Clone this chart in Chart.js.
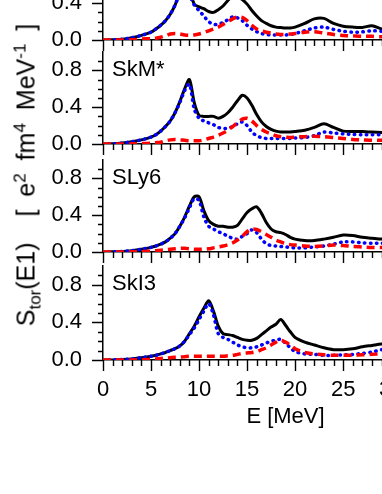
<!DOCTYPE html>
<html>
<head>
<meta charset="utf-8">
<script src="https://cdn.jsdelivr.net/npm/chart.js@4.4.0/dist/chart.umd.min.js"></script>
<style>
  html, body { margin: 0; padding: 0; background: #fff; }
  body { width: 382px; height: 494px; overflow: hidden; position: relative;
         font-family: "Liberation Sans", Arial, sans-serif; }
  canvas { position: absolute; left: 0; }
  #ytitle { position: absolute; left: 26px; top: 175px; white-space: nowrap;
            transform: translate(-50%, -50%) rotate(-90deg);
            font-size: 25px; line-height: 1; word-spacing: 6px; color: #000; }
  #ytitle sub, #ytitle sup { font-size: 17px; line-height: 0; }
</style>
</head>
<body>
<canvas id="panel0" width="490" height="112" style="top:-58px"></canvas>
<canvas id="panel1" width="490" height="112" style="top:46px"></canvas>
<canvas id="panel2" width="490" height="112" style="top:154px"></canvas>
<canvas id="panel3" width="490" height="170" style="top:260px"></canvas>
<div id="ytitle">S<sub>tor</sub>(E1)&nbsp; [ e<sup>2</sup> fm<sup>4</sup> MeV<sup>-1</sup> ]</div>
<script>
// excitation energy grid (MeV), shared by every curve
const energy = [0, 1, 2, 3, 4, 5,
  5.5, 6, 6.5, 7, 7.5, 8, 8.5, 9, 9.5, 10,
  10.5, 11, 11.5, 12, 12.5, 13, 13.5, 14, 14.5, 15,
  15.5, 16, 16.5, 17, 17.5, 18, 18.5, 19, 19.5, 20,
  21, 22, 23, 24, 25, 26, 27, 28, 29, 30];

const panelNames = ["", "SkM*", "SLy6", "SkI3"];

// top panel (mostly cut off)
const topTotal = [0, 0.002, 0.008, 0.025, 0.05, 0.085,
  0.12, 0.16, 0.21, 0.28, 0.38, 0.52, 0.7, 0.55, 0.39, 0.36,
  0.34, 0.31, 0.3, 0.33, 0.37, 0.43, 0.48, 0.47, 0.44, 0.39,
  0.32, 0.26, 0.21, 0.18, 0.155, 0.14, 0.135, 0.13, 0.13, 0.14,
  0.18, 0.23, 0.235, 0.18, 0.15, 0.14, 0.137, 0.155, 0.12, 0.11];
const topDotted = [0, 0.002, 0.008, 0.025, 0.05, 0.085,
  0.12, 0.16, 0.21, 0.28, 0.38, 0.52, 0.68, 0.5, 0.38, 0.32,
  0.26, 0.2, 0.17, 0.17, 0.19, 0.22, 0.25, 0.24, 0.21, 0.16,
  0.12, 0.09, 0.07, 0.06, 0.055, 0.055, 0.055, 0.055, 0.06, 0.07,
  0.1, 0.13, 0.14, 0.115, 0.095, 0.085, 0.088, 0.1, 0.095, 0.09];
const topDashed = [0, 0, 0, 0.003, 0.01, 0.015,
  0.02, 0.03, 0.045, 0.065, 0.07, 0.065, 0.055, 0.05, 0.055, 0.065,
  0.08, 0.1, 0.12, 0.14, 0.17, 0.2, 0.23, 0.25, 0.245, 0.21,
  0.16, 0.12, 0.1, 0.085, 0.075, 0.065, 0.06, 0.06, 0.065, 0.07,
  0.085, 0.09, 0.075, 0.06, 0.05, 0.045, 0.04, 0.04, 0.035, 0.035];

// SkM*
const skmTotal = [0, 0.002, 0.01, 0.025, 0.045, 0.075,
  0.1, 0.14, 0.19, 0.25, 0.34, 0.46, 0.6, 0.7, 0.45, 0.31,
  0.3, 0.3, 0.3, 0.28, 0.3, 0.34, 0.4, 0.47, 0.53, 0.5,
  0.42, 0.32, 0.24, 0.19, 0.16, 0.14, 0.13, 0.13, 0.13, 0.135,
  0.15, 0.18, 0.22, 0.18, 0.14, 0.135, 0.135, 0.13, 0.125, 0.12];
const skmDotted = [0, 0.002, 0.01, 0.025, 0.045, 0.075,
  0.1, 0.14, 0.19, 0.25, 0.34, 0.45, 0.58, 0.65, 0.38, 0.28,
  0.25, 0.23, 0.21, 0.18, 0.17, 0.17, 0.19, 0.22, 0.24, 0.2,
  0.13, 0.09, 0.07, 0.06, 0.06, 0.06, 0.06, 0.06, 0.06, 0.065,
  0.07, 0.09, 0.13, 0.12, 0.11, 0.105, 0.1, 0.1, 0.1, 0.1];
const skmDashed = [0, 0, 0, 0.002, 0.005, 0.01,
  0.015, 0.02, 0.035, 0.045, 0.05, 0.045, 0.04, 0.035, 0.035, 0.035,
  0.045, 0.06, 0.075, 0.095, 0.12, 0.15, 0.19, 0.23, 0.27, 0.28,
  0.25, 0.2, 0.16, 0.13, 0.11, 0.09, 0.08, 0.075, 0.07, 0.075,
  0.08, 0.085, 0.08, 0.07, 0.06, 0.05, 0.045, 0.04, 0.04, 0.04];

// SLy6
const slyTotal = [0, 0.002, 0.006, 0.015, 0.03, 0.05,
  0.065, 0.085, 0.11, 0.15, 0.2, 0.28, 0.38, 0.5, 0.6, 0.6,
  0.45, 0.34, 0.3, 0.28, 0.28, 0.27, 0.27, 0.29, 0.36, 0.43,
  0.47, 0.49, 0.42, 0.32, 0.25, 0.22, 0.21, 0.19, 0.16, 0.14,
  0.125, 0.125, 0.14, 0.16, 0.185, 0.18, 0.16, 0.15, 0.14, 0.135];
const slyDotted = [0, 0.002, 0.006, 0.015, 0.03, 0.05,
  0.065, 0.085, 0.11, 0.15, 0.2, 0.28, 0.37, 0.48, 0.58, 0.56,
  0.38, 0.28, 0.25, 0.22, 0.2, 0.17, 0.15, 0.14, 0.17, 0.2,
  0.24, 0.21, 0.14, 0.09, 0.07, 0.065, 0.06, 0.055, 0.05, 0.045,
  0.045, 0.055, 0.065, 0.085, 0.11, 0.11, 0.1, 0.095, 0.095, 0.09];
const slyDashed = [0, 0, 0, 0.002, 0.005, 0.01,
  0.015, 0.02, 0.025, 0.03, 0.035, 0.04, 0.04, 0.035, 0.03, 0.03,
  0.03, 0.035, 0.045, 0.055, 0.065, 0.08, 0.1, 0.13, 0.17, 0.22,
  0.25, 0.245, 0.22, 0.19, 0.16, 0.13, 0.11, 0.09, 0.08, 0.075,
  0.065, 0.06, 0.065, 0.075, 0.07, 0.06, 0.055, 0.05, 0.05, 0.045];

// SkI3
const skiTotal = [0, 0.001, 0.005, 0.012, 0.025, 0.04,
  0.05, 0.065, 0.08, 0.1, 0.12, 0.15, 0.2, 0.28, 0.36, 0.46,
  0.55, 0.63, 0.52, 0.36, 0.28, 0.27, 0.26, 0.24, 0.22, 0.21,
  0.21, 0.23, 0.27, 0.31, 0.35, 0.38, 0.43, 0.37, 0.3, 0.24,
  0.19, 0.16, 0.13, 0.11, 0.11, 0.12, 0.14, 0.155, 0.17, 0.18];
const skiDotted = [0, 0.001, 0.005, 0.012, 0.025, 0.04,
  0.05, 0.065, 0.08, 0.1, 0.12, 0.15, 0.2, 0.27, 0.34, 0.43,
  0.52, 0.6, 0.48, 0.28, 0.24, 0.22, 0.19, 0.16, 0.14, 0.13,
  0.13, 0.14, 0.16, 0.18, 0.2, 0.21, 0.22, 0.18, 0.13, 0.09,
  0.065, 0.06, 0.05, 0.05, 0.055, 0.06, 0.07, 0.085, 0.11, 0.13];
const skiDashed = [0, 0, 0, 0.001, 0.003, 0.006,
  0.01, 0.015, 0.02, 0.025, 0.03, 0.03, 0.035, 0.04, 0.04, 0.04,
  0.04, 0.04, 0.04, 0.04, 0.04, 0.045, 0.05, 0.06, 0.07, 0.075,
  0.08, 0.09, 0.11, 0.13, 0.16, 0.19, 0.21, 0.19, 0.16, 0.12,
  0.08, 0.065, 0.055, 0.05, 0.05, 0.05, 0.055, 0.06, 0.065, 0.07];

const yMajor = [0, 0.4, 0.8];
const xMax = 38;

Chart.defaults.font.family = "'Liberation Sans', Arial, sans-serif";
Chart.defaults.font.size = 22;
Chart.defaults.color = "#000";

const toPoints = (arr) => energy.map((e, i) => ({ x: e, y: arr[i] }));

// outward tick marks (long at majors) and the panel name
const tickMarks = {
  id: "tickMarks",
  afterDraw(chart, args, opts) {
    const { ctx, chartArea: area } = chart;
    const xs = chart.scales.x;
    const ys = chart.scales.y;
    ctx.save();
    ctx.strokeStyle = "#000";
    ctx.lineWidth = 1.4;
    ctx.beginPath();
    for (let e = 0; e <= xMax; e += 1) {
      const px = Math.round(xs.getPixelForValue(e)) + 0.5;
      const len = e % 5 === 0 ? 11 : 6;
      ctx.moveTo(px, area.bottom);
      ctx.lineTo(px, area.bottom + len);
    }
    for (let k = 0; k <= 9; k++) {
      const py = Math.round(ys.getPixelForValue(k / 10)) + 0.5;
      const len = k % 4 === 0 ? 11 : 5;
      ctx.moveTo(area.left, py);
      ctx.lineTo(area.left - len, py);
    }
    ctx.stroke();
    if (opts.name) {
      ctx.fillStyle = "#000";
      ctx.font = "22px 'Liberation Sans', Arial, sans-serif";
      ctx.textBaseline = "middle";
      ctx.textAlign = "left";
      ctx.fillText(opts.name, area.left + 9, ys.getPixelForValue(0.81));
    }
    ctx.restore();
  },
};

const noPad = (s) => {
  s.paddingTop = 0;
  s.paddingBottom = 0;
  s.paddingLeft = 0;
  s.paddingRight = 0;
};

const makePanel = (canvasId, name, total, dotted, dashed, isBottom) => {
  const data = {
    datasets: [
      {
        label: "dashed",
        data: toPoints(dashed),
        borderColor: "#ff0000",
        borderWidth: 3.5,
        borderDash: [8, 5],
        pointRadius: 0,
        tension: 0.3,
        order: 0,
      },
      {
        label: "dotted",
        data: toPoints(dotted),
        borderColor: "#0000ff",
        borderWidth: 3.5,
        borderDash: [0.5, 5.5],
        borderCapStyle: "round",
        pointRadius: 0,
        tension: 0.3,
        order: 1,
      },
      {
        label: "total",
        data: toPoints(total),
        borderColor: "#000000",
        borderWidth: 3,
        pointRadius: 0,
        tension: 0.3,
        order: 2,
      },
    ],
  };

  const config = {
    type: "line",
    data: data,
    options: {
      responsive: false,
      animation: false,
      events: [],
      layout: { padding: { top: 6, right: 22, left: 0, bottom: 0 } },
      plugins: {
        legend: { display: false },
        tooltip: { enabled: false },
        tickMarks: { name: name },
      },
      scales: {
        x: {
          type: "linear",
          min: 0,
          max: xMax,
          grid: { display: false },
          border: { display: true, color: "#000", width: 1.5 },
          ticks: {
            stepSize: 5,
            includeBounds: false,
            padding: 9,
            maxRotation: 0,
            callback: (v) => (isBottom ? v : ""),
          },
          title: {
            display: isBottom,
            text: "E [MeV]",
            padding: { top: 0, bottom: 0 },
          },
          afterFit: (s) => {
            s.height = isBottom ? 70 : 14;
            noPad(s);
          },
        },
        y: {
          type: "linear",
          min: 0,
          max: 1,
          grid: { display: false },
          border: { display: true, color: "#000", width: 1.5 },
          ticks: {
            stepSize: 0.4,
            includeBounds: false,
            padding: 13,
            callback: (v) =>
              yMajor.some((t) => Math.abs(v - t) < 1e-6) ? v.toFixed(1) : "",
          },
          afterFit: (s) => {
            s.width = 103;
            noPad(s);
          },
        },
      },
    },
    plugins: [tickMarks],
  };
  return new Chart(document.getElementById(canvasId), config);
};

makePanel("panel0", panelNames[0], topTotal, topDotted, topDashed, false);
makePanel("panel1", panelNames[1], skmTotal, skmDotted, skmDashed, false);
makePanel("panel2", panelNames[2], slyTotal, slyDotted, slyDashed, false);
makePanel("panel3", panelNames[3], skiTotal, skiDotted, skiDashed, true);
</script>
</body>
</html>
